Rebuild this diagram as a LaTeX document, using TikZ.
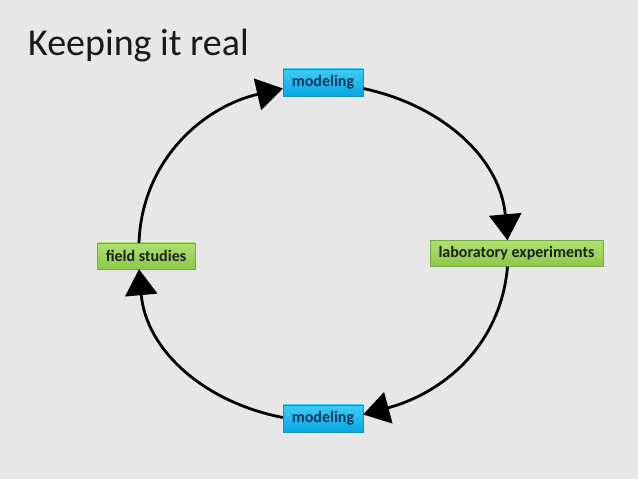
\documentclass[tikz,border=0pt]{standalone}
\usepackage{fontspec}
\setmainfont{Carlito}
\usetikzlibrary{arrows.meta}
\definecolor{slidebg}{HTML}{E7E7E7}
\definecolor{bluetop}{HTML}{3FCBF7}
\definecolor{bluebot}{HTML}{05A7E3}
\definecolor{blueedge}{HTML}{1C8FBF}
\definecolor{navytext}{HTML}{17365D}
\definecolor{greentop}{HTML}{ADE06F}
\definecolor{greenbot}{HTML}{8DC84B}
\definecolor{greenedge}{HTML}{79A944}
\begin{document}
\begin{tikzpicture}[x=1pt,y=1pt,
  bluebox/.style={draw=blueedge,top color=bluetop,bottom color=bluebot,minimum width=80pt,minimum height=27pt,inner sep=0pt,text=navytext,font=\fontsize{16}{18}\selectfont\bfseries},
  greenbox/.style={draw=greenedge,top color=greentop,bottom color=greenbot,minimum height=26pt,inner sep=0pt,text=black!88,font=\fontsize{16}{18}\selectfont\bfseries},
  flow/.style={line width=2.8pt,-{Triangle[length=26pt,width=32pt]}}]

\fill[slidebg] (0,0) rectangle (638,479);
\useasboundingbox (0,0) rectangle (638,479);

\node[anchor=base west,inner sep=0pt,text=black!90,font=\fontsize{38}{44}\selectfont] (title) at (28,423) {Keeping it real};

\node[bluebox] (m1) at (323,396.5) {modeling};
\node[greenbox,minimum width=173pt] (lab) at (516.5,225.5) {laboratory experiments};
\node[bluebox] (m2) at (323,60.5) {modeling};
\node[greenbox,minimum width=98pt] (field) at (146,223) {field studies};

\draw[flow] ([xshift=-7pt]field.north) to[out=88,in=193] ([yshift=-6pt]m1.west);
\draw[flow] ([yshift=-6pt]m1.east) to[out=-12,in=95] ([xshift=-9pt]lab.north);
\draw[flow] ([xshift=-9pt]lab.south) to[out=-95,in=15] ([yshift=4pt]m2.east);
\draw[flow] ([yshift=1pt]m2.west) to[out=169,in=-85] ([xshift=-7pt]field.south);
%\draw[flow] (m2) -- (m1);

\end{tikzpicture}
\end{document}
